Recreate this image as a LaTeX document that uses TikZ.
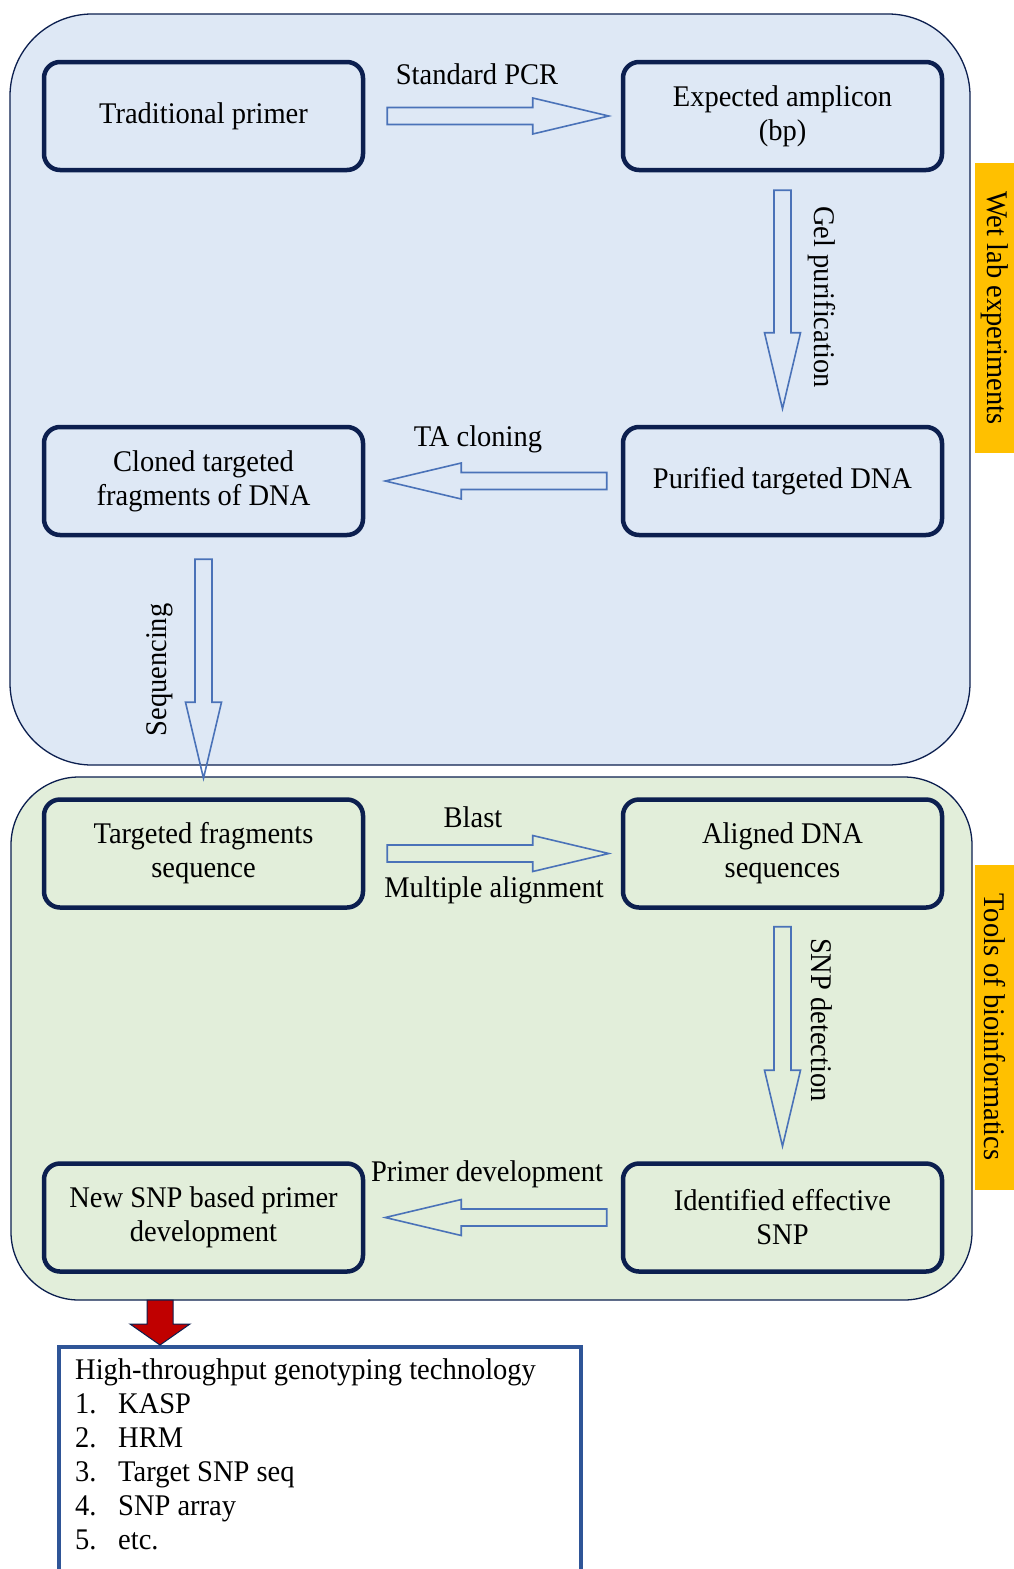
\documentclass[tikz,border=0pt]{standalone}
\usepackage{fontspec}
\setmainfont{Liberation Serif}[FakeStretch=0.95]
\usetikzlibrary{calc}
\definecolor{navy}{HTML}{0C1F4F}
\definecolor{bluefill}{HTML}{DEE8F5}
\definecolor{greenfill}{HTML}{E2EEDA}
\definecolor{arrowblue}{HTML}{4A72B8}
\definecolor{listblue}{HTML}{2F5597}
\definecolor{gold}{HTML}{FFC000}
\definecolor{darkred}{HTML}{C00000}
\newcommand\blockarr[2]{%
  \coordinate (hb) at ($(#2)!76pt!(#1)$);
  \draw[barrow] ($(#1)!8.5pt!90:(#2)$) -- ($(hb)!8.5pt!90:(#2)$) -- ($(hb)!18pt!90:(#2)$) -- (#2)
    -- ($(hb)!18pt!-90:(#2)$) -- ($(hb)!8.5pt!-90:(#2)$) -- ($(#1)!8.5pt!-90:(#2)$) -- cycle;}
\begin{document}
\begin{tikzpicture}[x=1pt,y=-1pt,
  stepbox/.style={draw=navy,line width=4.5pt,rounded corners=16pt,minimum width=319pt,minimum height=108pt,align=center,font=\fontsize{30}{34}\selectfont,inner sep=0pt},
  barrow/.style={draw=arrowblue,line width=1.6pt,line join=miter},
  lbl/.style={font=\fontsize{30}{34}\selectfont,inner sep=0pt},
  side/.style={fill=gold,minimum height=40pt,inner sep=0pt,font=\fontsize{30}{34}\selectfont,rotate=-90}]
\useasboundingbox (0,0) rectangle (1014,1569);
\fill[white] (0,0) rectangle (1014,1569);
% regions
\draw[navy,line width=1.3pt,fill=bluefill,rounded corners=82pt] (10,14) rectangle (970,765);
\draw[navy,line width=1.3pt,fill=greenfill,rounded corners=68pt] (11,777) rectangle (972,1300);
% side labels
\node[side,minimum width=290pt] (wet) at (995,308) {Wet lab experiments};
\node[side,minimum width=325pt] (tools) at (995,1027) {Tools of bioinformatics};
% boxes
\node[stepbox] (tp) at (203.5,116) {Traditional primer};
\node[stepbox] (ea) at (782.5,116) {Expected amplicon\\(bp)};
\node[stepbox] (pd) at (782.5,481) {Purified targeted DNA};
\node[stepbox] (cl) at (203.5,481) {Cloned targeted\\fragments of DNA};
\node[stepbox] (tf) at (203.5,853.5) {Targeted fragments\\sequence};
\node[stepbox] (al) at (782.5,853.5) {Aligned DNA\\sequences};
\node[stepbox] (id) at (782.5,1217.5) {Identified effective\\SNP};
\node[stepbox] (ns) at (203.5,1217.5) {New SNP based primer\\development};
% block arrows
\coordinate (a1s) at ($(tp.east)+(22,0)$); \coordinate (a1e) at ($(ea.west)+(-12,0)$);
\blockarr{a1s}{a1e}
\coordinate (a2s) at ($(ea.south)+(0,18)$); \coordinate (a2e) at ($(pd.north)+(0,-16)$);
\blockarr{a2s}{a2e}
\coordinate (a3s) at ($(pd.west)+(-14,0)$); \coordinate (a3e) at ($(cl.east)+(20,0)$);
\blockarr{a3s}{a3e}
\coordinate (a4s) at ($(cl.south)+(0,22)$); \coordinate (a4e) at ($(tf.north)+(0,-19)$);
\blockarr{a4s}{a4e}
\coordinate (a5s) at ($(tf.east)+(22,0)$); \coordinate (a5e) at ($(al.west)+(-12,0)$);
\blockarr{a5s}{a5e}
\coordinate (a6s) at ($(al.south)+(0,17)$); \coordinate (a6e) at ($(id.north)+(0,-15)$);
\blockarr{a6s}{a6e}
\coordinate (a7s) at ($(id.west)+(-14,0)$); \coordinate (a7e) at ($(ns.east)+(20,0)$);
\blockarr{a7s}{a7e}
% arrow labels
\node[lbl] (l1) at (477,74) {Standard PCR};
\node[lbl,rotate=-90] (l2) at (822,297) {Gel purification};
\node[lbl] (l3) at (478,439) {TA cloning};
\node[lbl,rotate=90] (l4) at (160,670) {Sequencing};
\node[lbl] (l5) at (473,817) {Blast};
\node[lbl] (l6) at (494,890) {Multiple alignment};
\node[lbl,rotate=-90] (l7) at (822,1020) {SNP detection};
\node[lbl] (l8) at (487,1174) {Primer development};
% list box
\node[draw=listblue,line width=3.5pt,fill=white,anchor=north west,minimum width=522pt,minimum height=226pt,inner sep=0pt] (hb2) at (57,1345) {};
\node[anchor=north west,align=left,inner sep=0pt,font=\fontsize{30}{34}\selectfont] (lst) at (75,1358)
 {High-throughput genotyping technology\\
  \makebox[43pt][l]{1.}KASP\\
  \makebox[43pt][l]{2.}HRM\\
  \makebox[43pt][l]{3.}Target SNP seq\\
  \makebox[43pt][l]{4.}SNP array\\
  \makebox[43pt][l]{5.}etc.};
% red arrow
\coordinate (rs) at (160,1300);
\coordinate (re) at ($(hb2.north west)+(103,0)$);
\draw[navy,line width=1pt,fill=darkred] ($(rs)+(-13,0)$) -- ($(rs)+(13,0)$) -- ($(rs)+(13,24)$) -- ($(rs)+(30,24)$) -- (re) -- ($(rs)+(-30,24)$) -- ($(rs)+(-13,24)$) -- cycle;
\end{tikzpicture}
\end{document}
